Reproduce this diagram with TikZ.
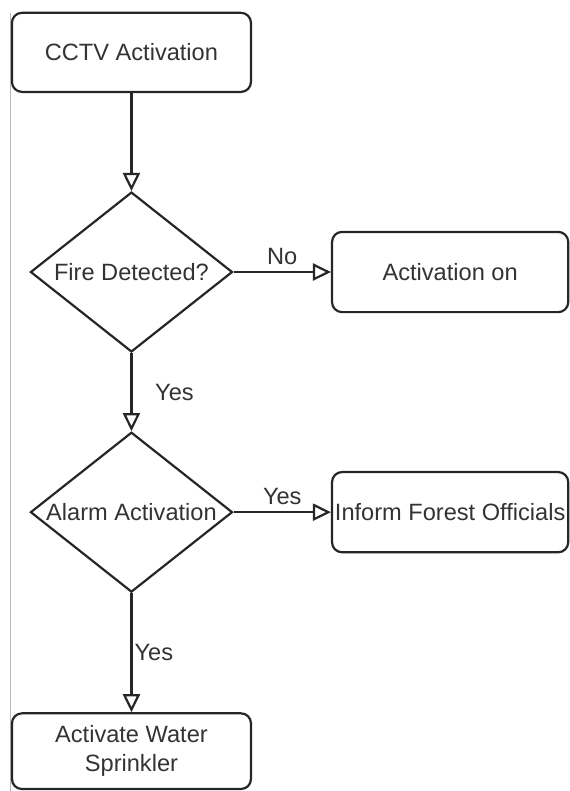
\documentclass[tikz,border=0pt]{standalone}
\usepackage{fontspec}
\setmainfont{Liberation Sans}
\usetikzlibrary{arrows.meta, shapes.geometric}

\begin{document}
\begin{tikzpicture}[
  font=\fontsize{11.8}{14.5}\selectfont,
  box/.style={draw=black!85, line width=1.1pt, rounded corners=5pt, minimum width=4.2cm, minimum height=1.39cm, align=center, text=black!80},
  decision/.style={draw=black!85, line width=1.1pt, diamond, shape aspect=1.26, inner sep=0pt, minimum width=3.55cm, minimum height=2.81cm, text=black!80},
  lbl/.style={text=black!80}
]
\useasboundingbox (0,0) rectangle (10.0,-13.9);
\draw[gray!55, line width=0.5pt] (0.176,-0.23) -- (0.176,-13.9);

\path
(2.31,-0.92) node[box] (cctv) {CCTV Activation}
(cctv) +(0,-3.86) node[decision] (fire) {Fire Detected?}
(fire) +(5.6,0) node[box, minimum width=4.15cm, minimum height=1.41cm] (act) {Activation on}
(fire) +(0,-4.22) node[decision] (alarm) {Alarm Activation}
(alarm) +(5.6,0) node[box, minimum width=4.15cm, minimum height=1.41cm, inner sep=0pt] (inform) {Inform Forest Officials}
(alarm) +(0,-4.2) node[box, minimum height=1.33cm] (water) {Activate Water\\Sprinkler}
;

\begin{scope}[-{Triangle[open, length=9pt, width=8.5pt]}, draw=black!85, line width=1.1pt]
\draw (cctv) -- (fire);
\draw (fire) -- node[lbl, above] {No} (act);
\draw (fire) -- node[lbl, right=8pt] {Yes} (alarm);
\draw (alarm) -- node[lbl, above] {Yes} (inform);
\draw (alarm) -- node[lbl, right, inner sep=1pt] {Yes} (water);
%\draw (act) -- (inform);
\end{scope}

\end{tikzpicture}
\end{document}
